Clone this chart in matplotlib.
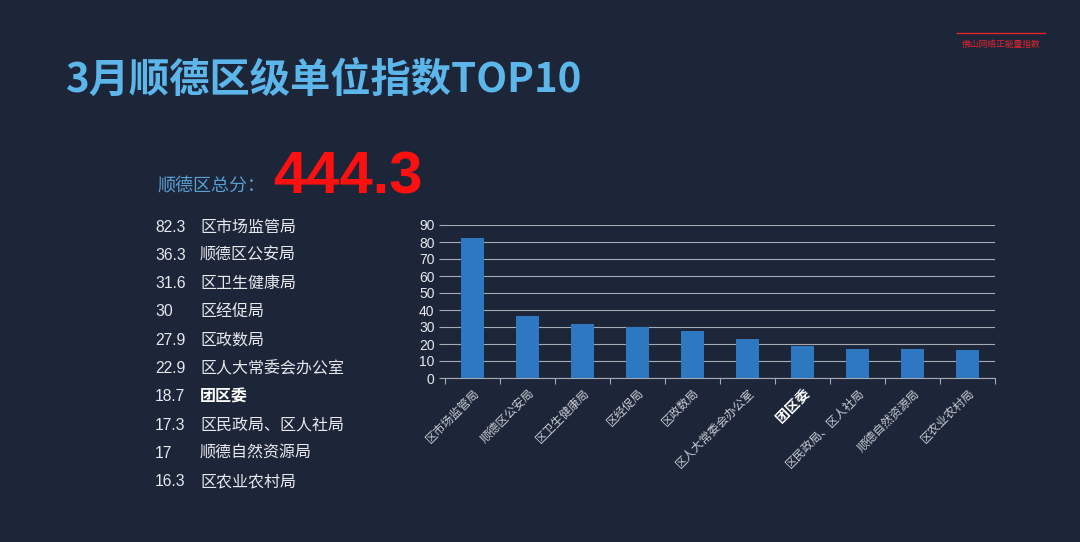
import matplotlib
matplotlib.use("Agg")
import matplotlib.pyplot as plt

plt.rcParams['font.family'] = ['Noto Sans CJK SC', 'DejaVu Sans']

BG = "#1d2639"

units = ["区市场监管局", "顺德区公安局", "区卫生健康局", "区经促局", "区政数局",
         "区人大常委会办公室", "团区委", "区民政局、区人社局", "顺德自然资源局", "区农业农村局"]
scores = [82.3, 36.3, 31.6, 30, 27.9, 22.9, 18.7, 17.3, 17, 16.3]
score_labels = ["82.3", "36.3", "31.6", "30", "27.9", "22.9", "18.7", "17.3", "17", "16.3"]
total = "444.3"
highlight = "团区委"

fig = plt.figure(figsize=(10.8, 5.42), dpi=100)
fig.patch.set_facecolor(BG)

# title + header
fig.text(65 / 1080, 1 - 80 / 542, "3月顺德区级单位指数TOP10", color="#5cb6ea",
         fontsize=29, fontweight="bold", va="center", ha="left")
fig.add_artist(plt.Line2D([957 / 1080, 1045 / 1080], [1 - 33 / 542, 1 - 33 / 542],
                          color="#e0242c", lw=1))
fig.text(1001 / 1080, 1 - 44 / 542, "佛山网络正能量指数", color="#e0242c",
         fontsize=6.3, ha="center", va="center")

# total score
fig.text(157 / 1080, 1 - 186 / 542, "顺德区总分：", color="#5a9fd2",
         fontsize=13, va="center", ha="left")
fig.text(273 / 1080, 1 - 178 / 542, total, color="#ff1010", fontsize=43,
         fontweight="bold", family=["Liberation Sans", "DejaVu Sans"],
         va="center", ha="left")

# left list
for i, (s, u) in enumerate(zip(score_labels, units)):
    y = 1 - (227 + i * 28.3) / 542
    fig.text(155 / 1080, y, s, color="#e6e8ec", fontsize=11.3, va="center", ha="left",
             family=["Liberation Sans", "DejaVu Sans"])
    fig.text(200 / 1080, y, u, color="white" if u == highlight else "#e6e8ec",
             fontsize=11.5, va="center", ha="left",
             fontweight="bold" if u == highlight else "normal")

# bar chart
ax = fig.add_axes([445 / 1080, 1 - 378 / 542, 550 / 1080, 153 / 542])
ax.set_facecolor(BG)
x = list(range(len(units)))
ax.bar(x, scores, width=0.42, color="#2e78c2", zorder=3)
ax.set_xlim(-0.5, len(units) - 0.5)
ax.set_ylim(0, 90)
ax.set_yticks(range(0, 91, 10))
ax.yaxis.grid(True, color="#a4a9b2", lw=0.8, zorder=0)
ax.set_axisbelow(True)
for side in ["top", "right", "left"]:
    ax.spines[side].set_visible(False)
ax.spines["bottom"].set_color("#a4a9b2")
ax.tick_params(axis="y", colors="#e6e8ec", labelsize=10, length=4, color="#a4a9b2")
for lbl in ax.get_yticklabels():
    lbl.set_family(["Liberation Sans", "DejaVu Sans"])

ax.set_xticks([i - 0.5 for i in range(len(units) + 1)], minor=False)
ax.set_xticklabels([])
ax.tick_params(axis="x", which="major", length=4, color="#a4a9b2")
ax.set_xticks(x, minor=True)
ax.set_xticklabels(units, minor=True, rotation=45, ha="right", rotation_mode="anchor")
ax.tick_params(axis="x", which="minor", length=0, labelsize=8.5, colors="#c8ccd4", pad=6)
for lbl in ax.get_xticklabels(minor=True):
    if lbl.get_text() == highlight:
        lbl.set_color("white")
        lbl.set_fontweight("bold")
        lbl.set_fontsize(10)

plt.savefig("out.png", dpi=100, facecolor=fig.get_facecolor())
plt.close()
